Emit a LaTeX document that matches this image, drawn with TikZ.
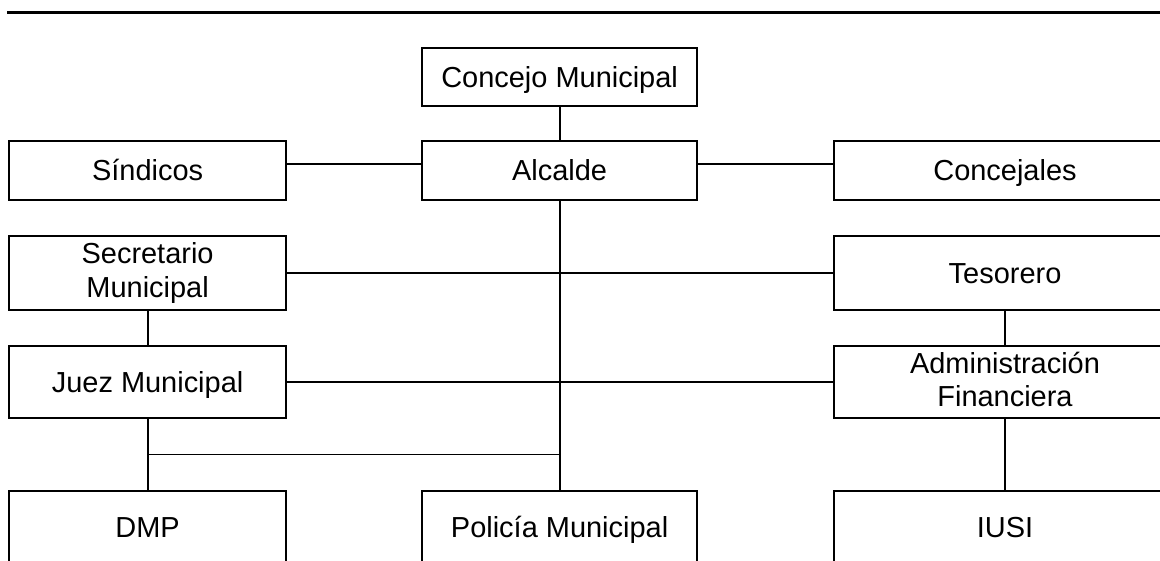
\documentclass[tikz,border=0pt]{standalone}
\usepackage{fontspec}
\setmainfont{Liberation Sans}
\usepackage{tikz}
\usetikzlibrary{positioning,calc}

\newcommand{\boxfont}{\fontsize{20.6pt}{23.5pt}\selectfont}
\newcommand{\boxstrut}{\rule[-0.184em]{0pt}{1.084em}}

\begin{document}
\begin{tikzpicture}[node distance=2cm,on grid,line width=1.3pt,
    box/.style={draw,rectangle,line width=1.5pt,align=center,font=\boxfont,inner sep=0pt,
        execute at begin node=\boxstrut,execute at end node=\boxstrut},
    lbox/.style={box,minimum width=6.925cm},
    cbox/.style={box,minimum width=6.875cm},
    rbox/.style={box,minimum width=8.55cm}]
        \path[use as bounding box,clip] (0,0) rectangle (29,-14.025);
        \draw[line width=1.8pt] (0.175,-0.3175) -- (29,-0.3175);
        \node[cbox,minimum height=1.45cm] (concejo) at (13.99,-1.925) {Concejo Municipal};
        \node[cbox,minimum height=1.475cm] (alcalde) [below=2.3375cm of concejo] {Alcalde};
        \node[lbox,minimum height=1.475cm] (sindicos) [left=10.3cm of alcalde] {Síndicos};
        \node[rbox,minimum height=1.475cm] (concejales) [right=11.135cm of alcalde] {Concejales};
        \node[lbox,minimum height=1.85cm] (secretario) [below=2.5625cm of sindicos] {Secretario\\Municipal};
        \node[rbox,minimum height=1.85cm] (tesorero) [below=2.5625cm of concejales] {Tesorero};
        \node[lbox,minimum height=1.8cm] (juez) [below=2.725cm of secretario] {Juez Municipal};
        \node[rbox,minimum height=1.8cm] (admin) [below=2.725cm of tesorero] {Administración\\Financiera};
        \node[lbox,minimum height=1.8cm] (dmp) [below=3.625cm of juez] {DMP};
        \node[cbox,minimum height=1.8cm] (policia) [right=10.3cm of dmp] {Policía Municipal};
        \node[rbox,minimum height=1.8cm] (iusi) [below=3.625cm of admin] {IUSI};
        \coordinate (split) at ($(juez.south)!0.5!(dmp.north)$);
        \draw (concejo) -- (alcalde)
        ([yshift=1.6mm]sindicos.east) -- ([yshift=1.6mm]alcalde.west)
        ([yshift=1.6mm]alcalde.east) -- ([yshift=1.6mm]concejales.west)
        (alcalde) -- (policia)
        (secretario) -- (tesorero)
        (juez) -- (admin)
        (secretario) -- (juez)
        (juez) -- (dmp)
        (split) -- (split -| alcalde.south)
        (tesorero) -- (admin)
        (admin) -- (iusi);
    \end{tikzpicture}
\end{document}
